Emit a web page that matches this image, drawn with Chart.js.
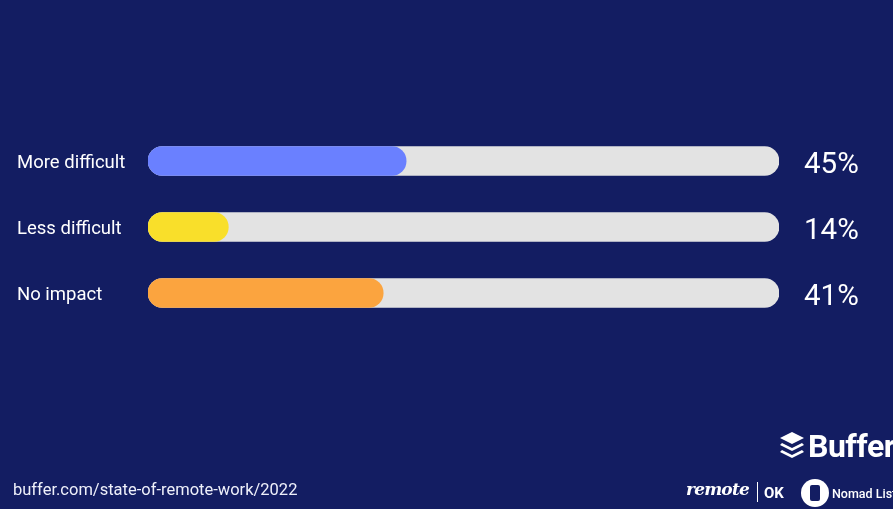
<!DOCTYPE html>
<html>
<head>
<meta charset="utf-8">
<script src="https://cdn.jsdelivr.net/npm/chart.js@4.4.1/dist/chart.umd.min.js"></script>
<style>
  html, body { margin: 0; padding: 0; background: #131d62; }
  #wrap { position: relative; width: 893px; height: 509px; overflow: hidden; background: #131d62; font-family: Roboto, "Open Sans", sans-serif; }
  canvas { position: absolute; left: 0; top: 0; }
  .src { position: absolute; left: 13px; top: 480px; color: #eef0fa; font-size: 16.5px; }
  .buffer { position: absolute; left: 779px; top: 427px; color: #ffffff; font-weight: 700; font-size: 32px; white-space: nowrap; letter-spacing: -0.5px; }
  .buffer svg { vertical-align: -4px; margin-right: 3px; }
  .remote { position: absolute; left: 686px; top: 479px; color: #fff; font-family: "DejaVu Serif", serif; font-style: italic; font-weight: 700; font-size: 17px; letter-spacing: -0.8px; white-space: nowrap; }
  .ok { position: absolute; left: 757px; top: 482px; color: #fff; font-weight: 700; font-size: 15px; white-space: nowrap; }
  .ok span { display: inline-block; width: 1px; height: 20px; background: #fff; vertical-align: -4px; margin-right: 6px; }
  .nomad { position: absolute; left: 801px; top: 479px; color: #fff; font-size: 12.5px; white-space: nowrap; font-weight: 500; }
  .nomad i { display: inline-block; width: 28px; height: 28px; border-radius: 50%; background: #fff; vertical-align: -9px; margin-right: 3px; position: relative; }
  .nomad i::after { content: ""; position: absolute; left: 9px; top: 6px; width: 10px; height: 16px; background: #131d62; border-radius: 2px; }
</style>
</head>
<body>
<div id="wrap">
  <canvas id="c" width="893" height="509"></canvas>
  <div class="src">buffer.com/state-of-remote-work/2022</div>
  <div class="buffer"><svg width="26" height="30" viewBox="0 0 26 30"><path d="M13 1 L25 7 L13 13 L1 7 Z" fill="#fff"/><path d="M3 12 L13 17 L23 12 L25 14 L13 20 L1 14 Z" fill="#fff"/><path d="M3 19 L13 24 L23 19 L25 21 L13 27 L1 21 Z" fill="#fff"/></svg>Buffer</div>
  <div class="remote">remote</div>
  <div class="ok"><span></span>OK</div>
  <div class="nomad"><i></i>Nomad List</div>
</div>
<script>
const categories = ["More difficult", "Less difficult", "No impact"];
const values = [45, 14, 41];
const valueLabels = ["45%", "14%", "41%"];
const barColors = ["#6a80ff", "#f9df2a", "#fba43f"];
const TRACK_MAX = 110;
const track = categories.map(() => TRACK_MAX);

new Chart(document.getElementById("c"), {
  type: "bar",
  data: {
    labels: categories,
    datasets: [
      {
        data: values,
        backgroundColor: barColors,
        borderRadius: 15,
        borderSkipped: false,
        barThickness: 29,
        grouped: false
      },
      {
        data: track,
        backgroundColor: "#e3e3e3",
        borderRadius: 15,
        borderSkipped: false,
        barThickness: 29,
        grouped: false
      }
    ]
  },
  options: {
    indexAxis: "y",
    responsive: false,
    animation: false,
    devicePixelRatio: 1,
    layout: { padding: { left: 17, right: 0, top: 128, bottom: 183 } },
    plugins: { legend: { display: false }, tooltip: { enabled: false } },
    scales: {
      x: { display: false, min: 0, max: TRACK_MAX },
      y: {
        position: "left",
        grid: { display: false, drawTicks: false },
        border: { display: false },
        ticks: {
          color: "#ffffff",
          font: { family: "Roboto", size: 18.5 },
          crossAlign: "far",
          padding: 0,
          labelOffset: 2
        },
        afterFit: (s) => { s.width = 131; }
      },
      y2: {
        type: "category",
        labels: valueLabels,
        position: "right",
        grid: { display: false, drawTicks: false },
        border: { display: false },
        ticks: {
          color: "#ffffff",
          font: { family: "Roboto", size: 29.5 },
          crossAlign: "near",
          padding: 25,
          labelOffset: 5
        },
        afterFit: (s) => { s.width = 114; }
      }
    }
  }
});
</script>
</body>
</html>
